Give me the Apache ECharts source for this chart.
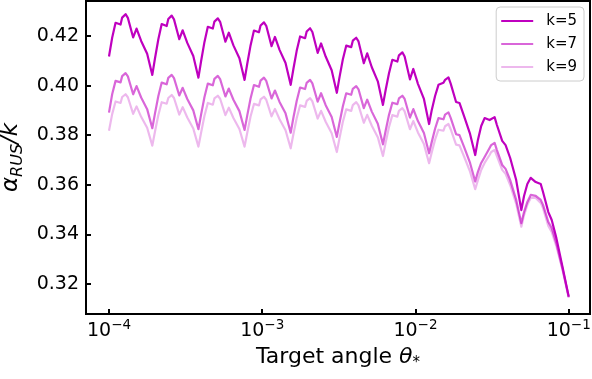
<!DOCTYPE html>
<html>
<head>
<meta charset="utf-8">
<script src="https://cdn.jsdelivr.net/npm/echarts@6/dist/echarts.min.js"></script>
<style>
html,body{margin:0;padding:0;background:#fff;}
#c{width:592px;height:379px;}
</style>
</head>
<body>
<div id="c"></div>
<script>
const xs = [
1.0e-4, 1.0489e-4, 1.1038e-4, 1.1899e-4, 1.2189e-4, 1.2828e-4, 1.3278e-4, 1.4379e-4, 1.5132e-4, 1.6214e-4, 1.7743e-4,
1.917e-4, 1.9964e-4, 2.0978e-4, 2.2076e-4, 2.3798e-4, 2.4378e-4, 2.5655e-4, 2.6556e-4, 2.8757e-4, 3.0264e-4, 3.2428e-4, 3.5486e-4,
3.834e-4, 3.9927e-4, 4.1955e-4, 4.4152e-4, 4.7595e-4, 4.8757e-4, 5.131e-4, 5.3112e-4, 5.7514e-4, 6.0527e-4, 6.4856e-4, 7.0971e-4,
7.668e-4, 7.9855e-4, 8.3911e-4, 8.8305e-4, 9.519e-4, 9.7514e-4, 1.0262e-3, 1.0622e-3, 1.1503e-3, 1.2105e-3, 1.2971e-3, 1.4194e-3,
1.5336e-3, 1.5971e-3, 1.6782e-3, 1.7661e-3, 1.9038e-3, 1.9503e-3, 2.0524e-3, 2.1245e-3, 2.3006e-3, 2.421e-3, 2.5942e-3, 2.8389e-3,
3.0672e-3, 3.1942e-3, 3.3564e-3, 3.5322e-3, 3.8076e-3, 3.9006e-3, 4.1048e-3, 4.249e-3, 4.6012e-3, 4.842e-3, 5.1884e-3, 5.6777e-3,
6.1344e-3, 6.3884e-3, 6.7128e-3, 7.0644e-3, 7.6152e-3, 7.8012e-3, 8.2096e-3, 8.498e-3, 9.2024e-3, 9.684e-3, 1.0377e-2, 1.1355e-2,
1.2269e-2, 1.2777e-2, 1.3426e-2, 1.4129e-2, 1.523e-2, 1.5602e-2, 1.6419e-2, 1.6996e-2, 1.8405e-2, 1.9368e-2, 2.0754e-2, 2.2711e-2,
2.4538e-2, 2.5554e-2, 2.6851e-2, 2.8258e-2, 3.0461e-2, 3.1205e-2, 3.2838e-2, 3.3992e-2, 3.681e-2, 3.8736e-2, 4.1507e-2, 4.5422e-2,
4.9075e-2, 5.1107e-2, 5.3703e-2, 5.6515e-2, 6.0921e-2, 6.2409e-2, 6.5677e-2, 6.7984e-2, 7.3619e-2, 7.7473e-2, 8.3015e-2, 9.0843e-2,
0.1];

const k5 = [
0.4117, 0.4193, 0.4253, 0.4246, 0.4274, 0.4288, 0.4273, 0.4194, 0.4230, 0.4180, 0.4128,
0.4043, 0.4110, 0.4186, 0.4248, 0.4240, 0.4268, 0.4282, 0.4267, 0.4187, 0.4223, 0.4172, 0.4119,
0.4032, 0.4099, 0.4175, 0.4237, 0.4230, 0.4258, 0.4271, 0.4257, 0.4177, 0.4213, 0.4162, 0.4110,
0.4023, 0.4088, 0.4162, 0.4222, 0.4215, 0.4242, 0.4255, 0.4241, 0.4159, 0.4196, 0.4144, 0.4091,
0.4003, 0.4067, 0.4140, 0.4198, 0.4191, 0.4218, 0.4231, 0.4216, 0.4132, 0.4170, 0.4117, 0.4062,
0.3971, 0.4034, 0.4105, 0.4161, 0.4155, 0.4181, 0.4193, 0.4178, 0.4090, 0.4130, 0.4074, 0.4017,
0.3922, 0.3982, 0.4049, 0.4104, 0.4097, 0.4122, 0.4134, 0.4117, 0.4025, 0.4067, 0.4007, 0.3946,
0.3845, 0.3902, 0.3958, 0.4003, 0.4011, 0.4023, 0.4033, 0.4007, 0.3934, 0.3930, 0.3877, 0.3805,
0.3720, 0.3781, 0.3837, 0.3869, 0.3861, 0.3855, 0.3873, 0.3841, 0.3777, 0.3760, 0.3708, 0.3619,
0.3498, 0.3555, 0.3603, 0.3628, 0.3611, 0.3607, 0.3603, 0.3571, 0.3490, 0.3458, 0.3386, 0.3273,
0.3149];

const k7 = [
0.3891, 0.3965, 0.4019, 0.4013, 0.4038, 0.4050, 0.4037, 0.3965, 0.3998, 0.3952, 0.3905,
0.3828, 0.3888, 0.3957, 0.4012, 0.4005, 0.4031, 0.4043, 0.4030, 0.3960, 0.3991, 0.3946, 0.3900,
0.3824, 0.3884, 0.3953, 0.4008, 0.4001, 0.4027, 0.4039, 0.4026, 0.3956, 0.3988, 0.3943, 0.3897,
0.3821, 0.3880, 0.3948, 0.4002, 0.3995, 0.4020, 0.4032, 0.4019, 0.3948, 0.3980, 0.3934, 0.3888,
0.3810, 0.3870, 0.3938, 0.3992, 0.3986, 0.4011, 0.4023, 0.4009, 0.3935, 0.3969, 0.3921, 0.3873,
0.3793, 0.3850, 0.3916, 0.3969, 0.3963, 0.3987, 0.3998, 0.3985, 0.3909, 0.3943, 0.3895, 0.3846,
0.3763, 0.3818, 0.3881, 0.3931, 0.3925, 0.3948, 0.3959, 0.3946, 0.3871, 0.3905, 0.3857, 0.3809,
0.3727, 0.3773, 0.3826, 0.3869, 0.3864, 0.3883, 0.3892, 0.3869, 0.3804, 0.3800, 0.3753, 0.3688,
0.3613, 0.3652, 0.3688, 0.3712, 0.3748, 0.3760, 0.3769, 0.3740, 0.3680, 0.3664, 0.3619, 0.3539,
0.3445, 0.3490, 0.3531, 0.3559, 0.3555, 0.3555, 0.3539, 0.3519, 0.3450, 0.3426, 0.3365, 0.3265,
0.3148];

const k9 = [
0.3818, 0.3885, 0.3936, 0.3930, 0.3954, 0.3965, 0.3953, 0.3886, 0.3916, 0.3874, 0.3830,
0.3758, 0.3815, 0.3880, 0.3933, 0.3927, 0.3950, 0.3962, 0.3950, 0.3883, 0.3913, 0.3871, 0.3827,
0.3754, 0.3811, 0.3877, 0.3930, 0.3923, 0.3948, 0.3959, 0.3947, 0.3881, 0.3911, 0.3869, 0.3825,
0.3754, 0.3810, 0.3875, 0.3926, 0.3920, 0.3944, 0.3955, 0.3943, 0.3876, 0.3906, 0.3864, 0.3820,
0.3747, 0.3804, 0.3868, 0.3920, 0.3914, 0.3938, 0.3949, 0.3936, 0.3867, 0.3898, 0.3854, 0.3808,
0.3732, 0.3788, 0.3853, 0.3904, 0.3898, 0.3921, 0.3933, 0.3920, 0.3850, 0.3882, 0.3838, 0.3792,
0.3716, 0.3770, 0.3832, 0.3881, 0.3875, 0.3898, 0.3909, 0.3896, 0.3824, 0.3857, 0.3811, 0.3764,
0.3687, 0.3731, 0.3782, 0.3822, 0.3818, 0.3836, 0.3845, 0.3823, 0.3762, 0.3759, 0.3714, 0.3653,
0.3582, 0.3619, 0.3660, 0.3688, 0.3720, 0.3732, 0.3740, 0.3716, 0.3660, 0.3644, 0.3599, 0.3523,
0.3431, 0.3478, 0.3519, 0.3547, 0.3547, 0.3543, 0.3527, 0.3506, 0.3434, 0.3410, 0.3353, 0.3261,
0.3144];

const seriesNames = ['k=5', 'k=7', 'k=9'];
const seriesColors = ['#bf00bf', 'rgba(191,0,191,0.6)', 'rgba(191,0,191,0.28)'];
const seriesValues = [k5, k7, k9];

const FONT = 'DejaVu Sans';
const chart = echarts.init(document.getElementById('c'), null, {renderer: 'canvas'});

const option = {
  animation: false,
  backgroundColor: '#fff',
  grid: {
    left: 86, right: 2, top: 1, bottom: 65,
    containLabel: false,
    outerBoundsMode: 'none',
    show: true, borderColor: '#000', borderWidth: 2, backgroundColor: 'transparent'
  },
  legend: {
    data: seriesNames,
    orient: 'vertical',
    right: 8, top: 7,
    icon: 'rect',
    itemWidth: 32, itemHeight: 2,
    itemGap: 7,
    padding: [6, 7, 6, 5],
    backgroundColor: 'rgba(255,255,255,0.8)',
    borderColor: '#cccccc', borderWidth: 1, borderRadius: 4,
    textStyle: {fontFamily: FONT, fontSize: 15, color: '#000', lineHeight: 16, padding: [0, 0, 0, 8]}
  },
  xAxis: {
    type: 'log',
    logBase: 10,
    min: 7.079e-5,
    max: 0.1377,
    name: '{n|Target angle }{t|θ}{s|*}',
    nameLocation: 'middle',
    nameGap: 29,
    nameTextStyle: {
      rich: {
        n: {fontFamily: FONT, fontSize: 22, color: '#000', lineHeight: 28},
        t: {fontFamily: FONT, fontSize: 22, fontStyle: 'italic', color: '#000', lineHeight: 28},
        s: {fontFamily: FONT, fontSize: 15, color: '#000', lineHeight: 16, verticalAlign: 'bottom'}
      }
    },
    splitLine: {show: false},
    minorTick: {show: false},
    axisLine: {show: true, lineStyle: {color: '#000', width: 2}},
    axisTick: {show: true, inside: true, length: 5, lineStyle: {color: '#000', width: 2}},
    axisLabel: {
      margin: 4,
      color: '#000',
      showMinLabel: false,
      showMaxLabel: false,
      formatter: function (v) {
        const l = Math.log10(v);
        const e = Math.round(l);
        if (Math.abs(l - e) > 1e-6) return '';
        return '{b|10}{s|' + (e < 0 ? '\u2212' + (-e) : e) + '}';
      },
      rich: {
        b: {fontFamily: FONT, fontSize: 19, color: '#000', lineHeight: 26},
        s: {fontFamily: FONT, fontSize: 13.5, color: '#000', lineHeight: 14, verticalAlign: 'top'}
      }
    }
  },
  yAxis: {
    type: 'value',
    min: 0.3079,
    max: 0.4341,
    splitNumber: 6,
    name: '{a|α}{s|RUS}{a|/k}',
    nameLocation: 'middle',
    nameRotate: 90,
    nameGap: 52,
    nameTextStyle: {
      rich: {
        a: {fontFamily: FONT, fontSize: 23, fontStyle: 'italic', color: '#000', lineHeight: 30},
        s: {fontFamily: FONT, fontSize: 16, fontStyle: 'italic', color: '#000', lineHeight: 16, verticalAlign: 'bottom'}
      }
    },
    splitLine: {show: false},
    axisLine: {show: true, lineStyle: {color: '#000', width: 2}},
    axisTick: {show: true, inside: true, length: 5, lineStyle: {color: '#000', width: 2}},
    axisLabel: {
      margin: 7,
      fontFamily: FONT, fontSize: 19, color: '#000',
      showMinLabel: false, showMaxLabel: false,
      formatter: function (v) {
        const r = Math.round(v / 0.02);
        if (Math.abs(v / 0.02 - r) > 1e-6) return '';
        return (r * 0.02).toFixed(2);
      }
    }
  },
  series: seriesNames.map(function (name, si) {
    return {
      name: name,
      type: 'line',
      symbol: 'none',
      showSymbol: false,
      smooth: false,
      clip: true,
      lineStyle: {color: seriesColors[si], width: 2.2, join: 'round'},
      itemStyle: {color: seriesColors[si]},
      data: xs.map(function (x, i) { return [x, seriesValues[si][i]]; })
    };
  })
};
chart.setOption(option);
</script>
</body>
</html>
